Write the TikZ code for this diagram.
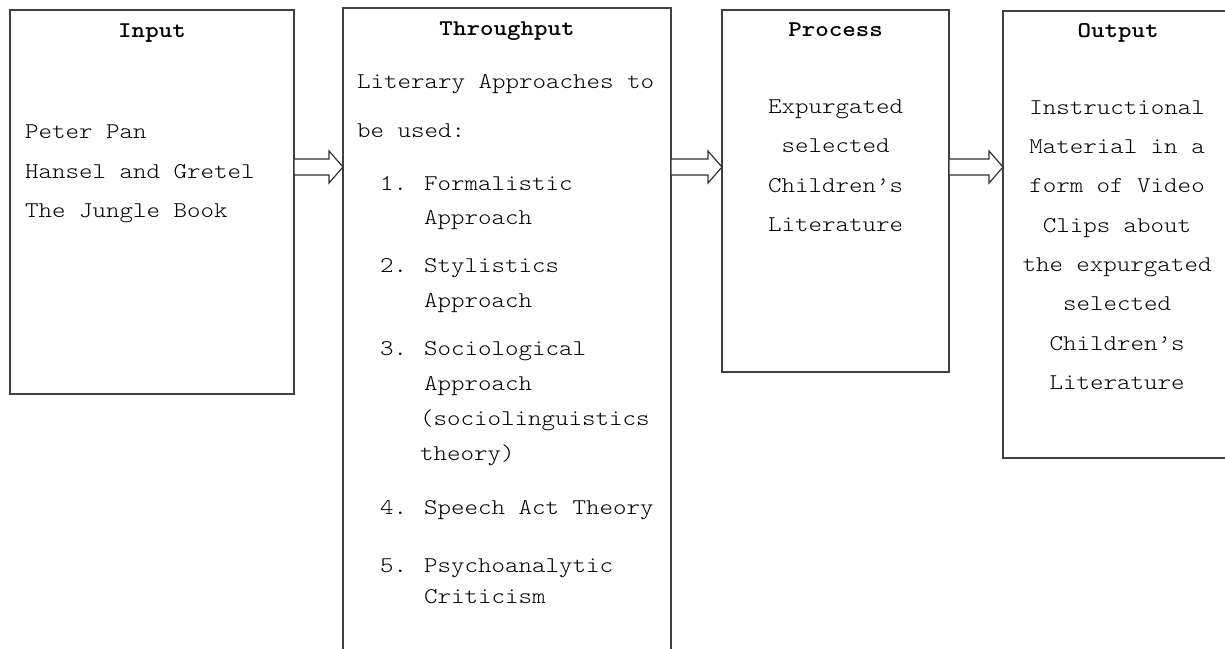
\documentclass[tikz,border=0pt]{standalone}
\usepackage{fontspec}
\setmainfont{Latin Modern Mono Light}[FakeStretch=1.143]
\usetikzlibrary{calc}
\tikzset{
  box/.style={draw=black!75, line width=1.3pt, outer sep=0pt, inner sep=0pt, anchor=north west},
  barrow/.style={draw=black!80, line width=1.2pt, fill=white, line join=miter},
  txl/.style={anchor=base west, inner sep=0pt, text=black},
  txc/.style={anchor=base, inner sep=0pt, text=black},
  ttl/.style={anchor=base, inner sep=0pt, font=\fontsize{22.5pt}{27pt}\selectfont\bfseries}
}
\newcommand{\blkarrow}[2]{%
  \draw[barrow] (#1.east |- 0,159) -- ($(#2.west |- 0,159)+(-14,0)$) -- ($(#2.west |- 0,151)+(-14,0)$)
    -- (#2.west |- 0,167) -- ($(#2.west |- 0,183)+(-14,0)$) -- ($(#2.west |- 0,175)+(-14,0)$)
    -- (#1.east |- 0,175) -- cycle;}
\begin{document}
\begin{tikzpicture}[x=1pt, y=-1pt, font=\fontsize{22.5pt}{27pt}\selectfont]
\useasboundingbox (0,0) rectangle (1225,648);
\clip (0,0) rectangle (1225,648);
\fill[white] (0,0) rectangle (1225,648);
% boxes
\node[box, minimum width=284pt, minimum height=384pt] (in) at (10,10) {};
\node[box, minimum width=328pt, minimum height=700pt] (thr) at (343,8) {};
\node[box, minimum width=227pt, minimum height=362pt] (pro) at (722,10) {};
\node[box, minimum width=230pt, minimum height=447pt] (out) at (1003,11) {};
% arrows
\blkarrow{in}{thr}
\blkarrow{thr}{pro}
\blkarrow{pro}{out}
% titles
\node[ttl] (tin) at (152,37) {Input};
\node[ttl] (tthr) at (507,35) {Throughput};
\node[ttl] (tpro) at (835.5,36) {Process};
\node[ttl] (tout) at (1118,37) {Output};
% input text
\node[txl] (i1) at (25,138) {Peter Pan};
\node[txl] (i2) at (25,178) {Hansel and Gretel};
\node[txl] (i3) at (25,217) {The Jungle Book};
% throughput text
\node[txl] (t1) at (357,88) {Literary Approaches to};
\node[txl] (t2) at (357,137) {be used:};
\node[txl] (n1) at (380,190) {1.};
\node[txl] (a1) at (424,190) {Formalistic};
\node[txl] (a1b) at (424,224) {Approach};
\node[txl] (n2) at (380,272) {2.};
\node[txl] (a2) at (424,272) {Stylistics};
\node[txl] (a2b) at (424,307) {Approach};
\node[txl] (n3) at (380,355) {3.};
\node[txl] (a3) at (424,355) {Sociological};
\node[txl] (a3b) at (424,390) {Approach};
\node[txl] (a3c) at (420,425) {(sociolinguistics};
\node[txl] (a3d) at (420,460) {theory)};
\node[txl] (n4) at (380,514) {4.};
\node[txl] (a4) at (424,514) {Speech Act Theory};
\node[txl] (n5) at (380,572) {5.};
\node[txl] (a5) at (424,572) {Psychoanalytic};
\node[txl] (a5b) at (424,603) {Criticism};
% process text
\node[txc] (p1) at (835.5,113) {Expurgated};
\node[txc] (p2) at (835.5,152) {selected};
\node[txc] (p3) at (835.5,192) {Children’s};
\node[txc] (p4) at (835.5,231) {Literature};
% output text
\node[txc] (o1) at (1117,114) {Instructional};
\node[txc] (o2) at (1117,153) {Material in a};
\node[txc] (o3) at (1117,192) {form of Video};
\node[txc] (o4) at (1117,232) {Clips about};
\node[txc] (o5) at (1117,271) {the expurgated};
\node[txc] (o6) at (1117,310) {selected};
\node[txc] (o7) at (1117,350) {Children’s};
\node[txc] (o8) at (1117,389) {Literature};
\end{tikzpicture}
\end{document}
